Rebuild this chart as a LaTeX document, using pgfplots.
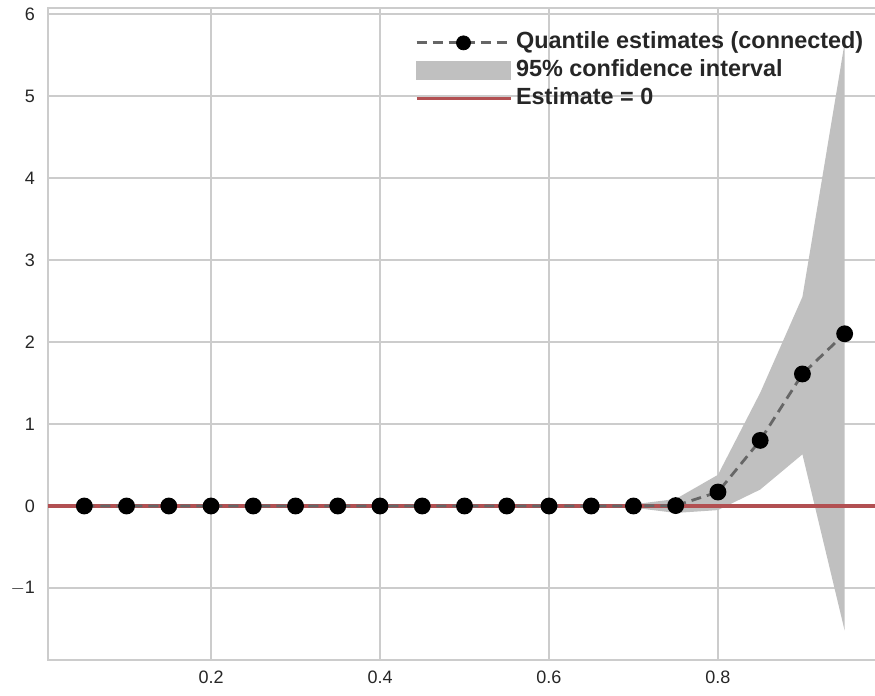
\documentclass[border=0pt]{standalone}
\usepackage{fontspec}
\setmainfont{Liberation Sans}
\usepackage{pgfplots}
\pgfplotsset{compat=1.18}
\definecolor{gridc}{RGB}{204,204,204}
\definecolor{txt}{RGB}{38,38,38}
\definecolor{cifill}{RGB}{192,192,192}
\definecolor{estline}{RGB}{102,102,102}
\definecolor{zeroline}{RGB}{178,80,82}
\begin{document}
\begin{tikzpicture}
\begin{axis}[
  at={(24pt,18pt)}, anchor=south west,
  scale only axis, width=416.5pt, height=326pt,
  xmin=0.007, xmax=0.993, ymin=-1.878, ymax=6.073,
  xtick={0.2,0.4,0.6,0.8}, ytick={-1,0,1,2,3,4,5,6},
  xticklabels={0.2,0.4,0.6,0.8},
  yticklabels={$-$1,0,1,2,3,4,5,6},
  grid=major, major grid style={gridc, line width=0.9pt},
  axis line style={gridc, line width=1.25pt},
  tick style={draw=none},
  tick label style={font=\fontsize{9}{10}\selectfont, text=txt},
  xticklabel style={yshift=-2pt},
  yticklabel style={xshift=-3pt},
  /pgf/number format/assume math mode=true,
  legend cell align=left,
  legend style={at={(0.440,0.964)}, anchor=north west, draw=none, fill=none,
    font=\fontsize{11.7}{13}\selectfont\bfseries, text=txt,
    inner xsep=0pt, inner ysep=0pt, row sep=3pt,
    nodes={inner xsep=2pt, inner ysep=0pt, text height=8.5pt, text depth=2.5pt}},
]
\addlegendimage{legend image code/.code={
  \draw[estline, line width=1.4pt, dash pattern=on 5pt off 3pt] (0pt,0pt) -- (47pt,0pt);
  \fill[black] (23.5pt,0pt) circle (3.5pt);}}
\addlegendentry{Quantile estimates (connected)}
\addlegendimage{legend image code/.code={
  \fill[cifill] (0pt,-4.5pt) rectangle (47pt,4.5pt);}}
\addlegendentry{95\% confidence interval}
\addlegendimage{legend image code/.code={
  \draw[zeroline, line width=1.6pt] (0pt,0pt) -- (47pt,0pt);}}
\addlegendentry{Estimate = 0}

% confidence band: upper bound left to right, then lower bound right to left
\addplot[forget plot, fill=cifill, draw=none] coordinates {
(0.05,0) (0.10,0) (0.15,0) (0.20,0) (0.25,0) (0.30,0) (0.35,0) (0.40,0)
(0.45,0) (0.50,0) (0.55,0) (0.60,0) (0.65,0) (0.70,0.02) (0.75,0.085)
(0.80,0.38) (0.85,1.38) (0.90,2.55) (0.95,5.65)
(0.95,-1.52) (0.90,0.63) (0.85,0.20) (0.80,-0.05) (0.75,-0.085) (0.70,-0.02)
(0.65,0) (0.60,0) (0.55,0) (0.50,0) (0.45,0) (0.40,0) (0.35,0) (0.30,0)
(0.25,0) (0.20,0) (0.15,0) (0.10,0) (0.05,0)} -- cycle;

\addplot[forget plot, zeroline, line width=1.6pt] coordinates {(0.007,0) (0.993,0)};

\addplot[forget plot, estline, line width=1.4pt, dash pattern=on 5pt off 3pt,
  mark=*, mark size=3.5pt, mark options={solid, fill=black, draw=black}] coordinates {
(0.05,0) (0.10,0) (0.15,0) (0.20,0) (0.25,0) (0.30,0) (0.35,0) (0.40,0)
(0.45,0) (0.50,0) (0.55,0) (0.60,0) (0.65,0) (0.70,0) (0.75,0.005)
(0.80,0.17) (0.85,0.80) (0.90,1.61) (0.95,2.10)};
\end{axis}
\pgfresetboundingbox
\useasboundingbox (0,0) rectangle (437.5pt,348pt);
\end{tikzpicture}
\end{document}
